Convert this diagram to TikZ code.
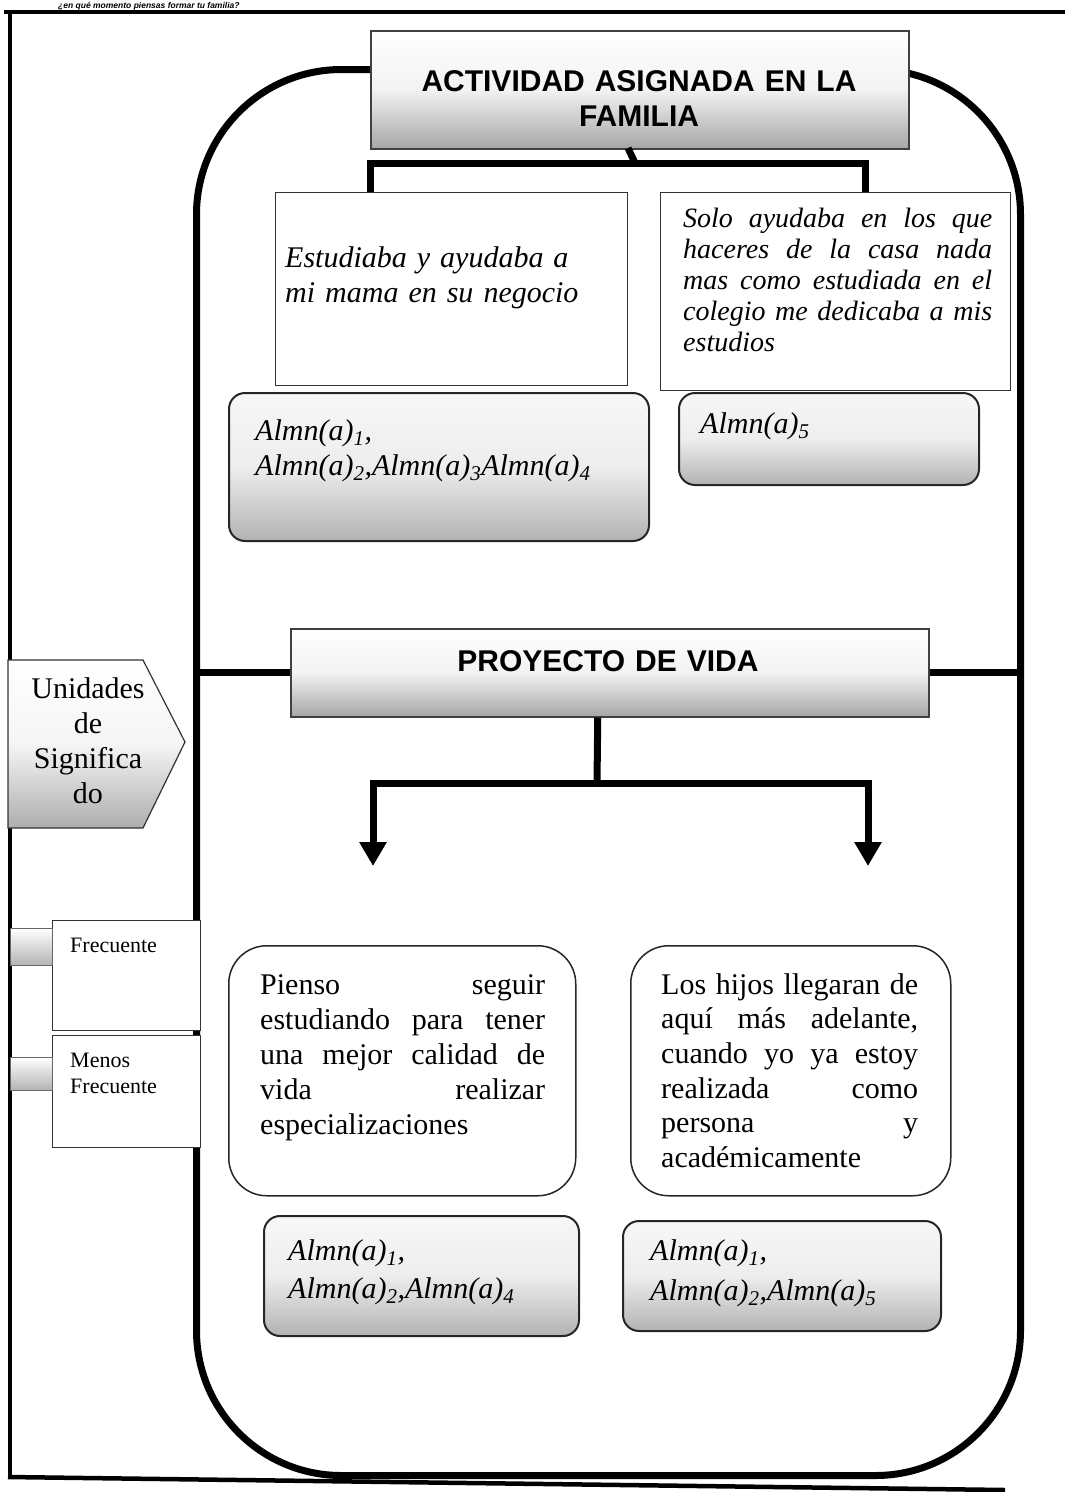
\documentclass[tikz,border=0pt]{standalone}
\usepackage{fontspec}
\setmainfont{Liberation Serif}
\newfontfamily\arialf{Liberation Sans}
\usetikzlibrary{arrows.meta,calc,shadows}
\begin{document}
\begin{tikzpicture}[x=1pt,y=-1pt,
  thickln/.style={line width=7pt, line join=miter},
  pageln/.style={line width=4.5pt},
  hdr/.style={draw=black!75, line width=1.5pt, top color=white, bottom color=black!35, middle color=black!5, inner sep=0pt, anchor=north west},
  plainbox/.style={draw=black!80, line width=1.2pt, fill=white, inner sep=0pt, anchor=north west},
  almnbox/.style={draw=black!85, line width=2pt, rounded corners=16pt, top color=black!3, bottom color=black!30, middle color=black!7, inner sep=0pt, anchor=north west},
  rbox/.style={draw=black!85, line width=1.5pt, rounded corners=38pt, fill=white, inner sep=0pt, anchor=north west},
  smallsh/.style={draw=black!60, line width=1pt, top color=white, bottom color=black!30, inner sep=0pt, anchor=north west},
  txt/.style={inner sep=0pt, anchor=north west, font=\fontsize{30}{35}\selectfont},
  itx/.style={txt, font=\fontsize{30}{35}\selectfont\itshape},
  hdrtxt/.style={inner sep=0pt, anchor=north, font=\arialf\bfseries\fontsize{30}{35}\selectfont, align=center, text width=530pt},
  tip/.style={-{Triangle[width=26pt,length=24pt]}}
]
\useasboundingbox (0,0) rectangle (1065,1492);

% page frame
\node[inner sep=0pt, anchor=base west, font=\arialf\bfseries\itshape\fontsize{8.5}{10}\selectfont] (q) at (58,8) {¿en qué momento piensas formar tu familia?};
\draw[pageln] (4,12) -- (1065,12);
\draw[pageln] (10,12) -- (10,1477);
\draw[pageln] (8,1477) -- (1005,1490);

% big rounded frame
\node[draw, line width=7pt, rounded corners=145pt, minimum width=824pt, minimum height=1406pt, inner sep=0pt, anchor=north west] (frame) at (193,66) {};

% header 1
\node[hdr, minimum width=538pt, minimum height=118pt] (h1) at (370,30) {};
\node[hdrtxt] (h1t) at (639,66.5) {\strut ACTIVIDAD ASIGNADA EN LA\\ FAMILIA};

% boxes A and B
\node[plainbox, minimum width=352pt, minimum height=193pt] (bA) at (275,192) {};
\node[itx, text width=330pt] (bAt) at (285,242.5) {\strut Estudiaba y ayudaba a\\ mi mama en su negocio};
\node[plainbox, minimum width=350pt, minimum height=198pt] (bB) at (660,192) {};
\node[itx, font=\fontsize{28}{31}\selectfont\itshape, text width=309pt, align=justify] (bBt) at (683,205.3) {\strut Solo ayudaba en los que\linebreak haceres de la casa nada\linebreak mas como estudiada en el\linebreak colegio me dedicaba a mis\linebreak estudios};

% connector header1
\coordinate (c1) at (628,148);
\coordinate (jb) at (635,163);
\draw[thickln] (c1) -- (jb);
\draw[thickln] ($(bA.north west)+(95,0)$) |- (jb) -| ($(bB.north west)+(205,0)$);

% almn boxes top
\node[almnbox, minimum width=420pt, minimum height=148pt] (al1) at (228,392) {};
\node[itx, text width=380pt] (al1t) at (255,415.5) {\strut Almn(a)\textsubscript{1},\\ Almn(a)\textsubscript{2},Almn(a)\textsubscript{3}Almn(a)\textsubscript{4}};
\node[almnbox, minimum width=300pt, minimum height=92pt] (al2) at (678,392) {};
\node[itx, text width=250pt] (al2t) at (700,408.5) {\strut Almn(a)\textsubscript{5}};

% header 2
\node[hdr, minimum width=638pt, minimum height=88pt] (h2) at (290,628) {};
\node[hdrtxt] (h2t) at (608,646.5) {\strut PROYECTO DE VIDA};
\draw[thickln] (frame.west |- h2.west) -- (h2.west);
\draw[thickln] (h2.east) -- (frame.east |- h2.east);

% connector header2
\coordinate (j2) at (597,783);
\coordinate (ar1) at (373,866);
\coordinate (ar2) at (868,866);
\draw[thickln] ($(h2.south)+(-12,0)$) -- (j2);
\draw[thickln, tip] (j2) -| (ar1);
\draw[thickln, tip] (j2) -| (ar2);

% boxes C and D
\node[rbox, minimum width=347pt, minimum height=250pt] (bC) at (228,945) {};
\node[txt, text width=285pt, align=justify] (bCt) at (260,969.5) {\strut Pienso seguir\linebreak estudiando para tener\linebreak una mejor calidad de\linebreak vida realizar\linebreak especializaciones};
\node[rbox, minimum width=320pt, minimum height=250pt] (bD) at (630,945) {};
\node[txt, font=\fontsize{30}{34.6}\selectfont, text width=257pt, align=justify] (bDt) at (661,969.8) {\strut Los hijos llegaran de\linebreak aquí más adelante,\linebreak cuando yo ya estoy\linebreak realizada como\linebreak persona y\linebreak académicamente};

% almn boxes bottom
\node[almnbox, minimum width=315pt, minimum height=120pt] (al3) at (263,1215) {};
\node[itx, font=\fontsize{30}{38}\selectfont\itshape, text width=280pt] (al3t) at (288,1233.4) {\strut Almn(a)\textsubscript{1},\\ Almn(a)\textsubscript{2},Almn(a)\textsubscript{4}};
\node[almnbox, minimum width=318pt, minimum height=110pt] (al4) at (622,1220) {};
\node[itx, font=\fontsize{30}{40}\selectfont\itshape, text width=280pt] (al4t) at (650,1232) {\strut Almn(a)\textsubscript{1},\\ Almn(a)\textsubscript{2},Almn(a)\textsubscript{5}};

% Unidades de significado pentagon
\shade[top color=white, bottom color=black!32, middle color=black!4] (8,660) -- (143,660) -- (185,742) -- (143,828) -- (8,828) -- cycle;
\draw[line width=1.2pt, black!80] (8,660) -- (143,660) -- (185,742) -- (143,828) -- (8,828) -- cycle;
\node[txt, anchor=north, text width=160pt, align=center] (unid) at (88,673.5) {\strut Unidades\\ de\\ Significa\\ do};

% legend
\node[plainbox, minimum width=148pt, minimum height=110pt] (fr) at (52,920) {};
\node[smallsh, minimum width=42pt, minimum height=37pt] (frs) at (10,928) {};
\node[txt, font=\fontsize{22}{26}\selectfont] (frt) at (70,933.8) {\strut Frecuente};
\node[plainbox, minimum width=148pt, minimum height=112pt] (mf) at (52,1035) {};
\node[smallsh, minimum width=42pt, minimum height=33pt] (mfs) at (10,1057) {};
\node[txt, font=\fontsize{22}{26}\selectfont, align=left] (mft) at (70,1048.8) {\strut Menos\\ Frecuente};
\end{tikzpicture}
\end{document}
